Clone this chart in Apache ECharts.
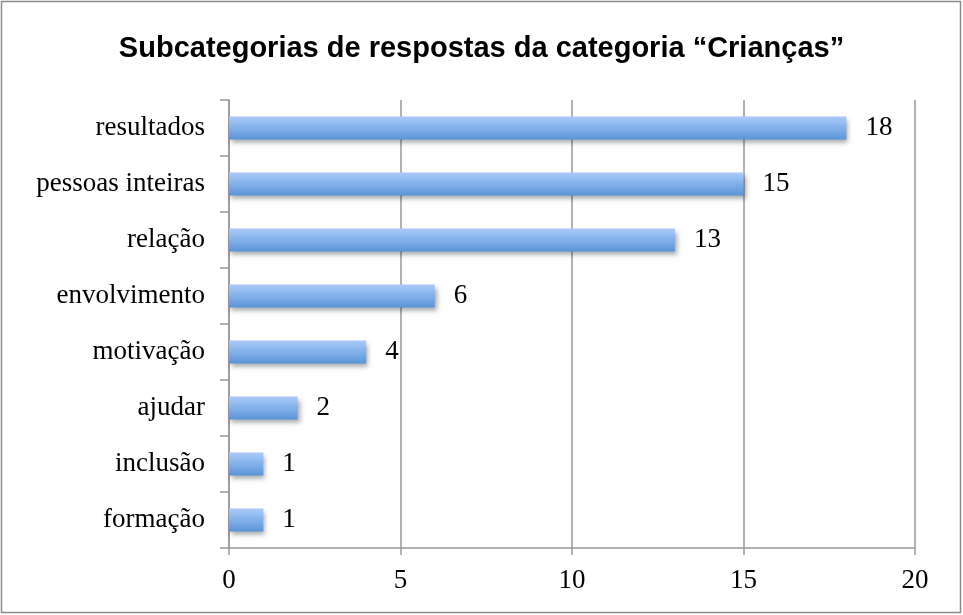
<!DOCTYPE html>
<html><head><meta charset="utf-8">
<script src="https://cdn.jsdelivr.net/npm/echarts@6/dist/echarts.min.js"></script>
<style>html,body{margin:0;padding:0;background:#fff}#c{width:963px;height:615px}</style>
</head><body><div id="c"></div>
<script>
const categories = ["formação","inclusão","ajudar","motivação","envolvimento","relação","pessoas inteiras","resultados"];
const values = [1,1,2,4,6,13,15,18];
const xTicks = [0,5,10,15,20];
const titleText = "Subcategorias de respostas da categoria “Crianças”";

const chart = echarts.init(document.getElementById('c'));
const serif = "Liberation Serif";
chart.setOption({
  animation:false,
  title:{text:titleText,left:'center',top:29,textStyle:{fontFamily:'Liberation Sans',fontWeight:'bold',fontSize:29,color:'#000'}},
  graphic:[{type:'rect',shape:{x:1.5,y:1.5,width:959,height:611},style:{fill:'none',stroke:'#8a8a8a',lineWidth:1.5},silent:true}],
  grid:{left:229,right:48,top:100,bottom:67,containLabel:false},
  xAxis:{type:'value',min:xTicks[0],max:xTicks[xTicks.length-1],interval:5,
    axisLine:{show:true,lineStyle:{color:'#999',width:1.5}},
    axisTick:{show:true,length:7,lineStyle:{color:'#999',width:1.5}},
    axisLabel:{fontFamily:serif,fontSize:27,color:'#000',margin:19},
    splitLine:{show:true,lineStyle:{color:'#999',width:1.5}}},
  yAxis:{type:'category',data:categories,
    axisLine:{show:true,lineStyle:{color:'#999',width:1.5}},
    axisTick:{show:true,length:9,alignWithLabel:false,lineStyle:{color:'#999',width:1.5}},
    axisLabel:{fontFamily:serif,fontSize:27,color:'#000',margin:24}},
  series:[{type:'bar',data:values,barWidth:23,
    itemStyle:{color:new echarts.graphic.LinearGradient(0,0,0,1,[{offset:0,color:'#a9cbf9'},{offset:1,color:'#5a95d8'}]),
      shadowColor:'rgba(0,0,0,0.35)',shadowBlur:5,shadowOffsetX:2,shadowOffsetY:3},
    label:{show:true,position:'right',distance:19,fontFamily:serif,fontSize:27,color:'#000'}}]
});
</script></body></html>
